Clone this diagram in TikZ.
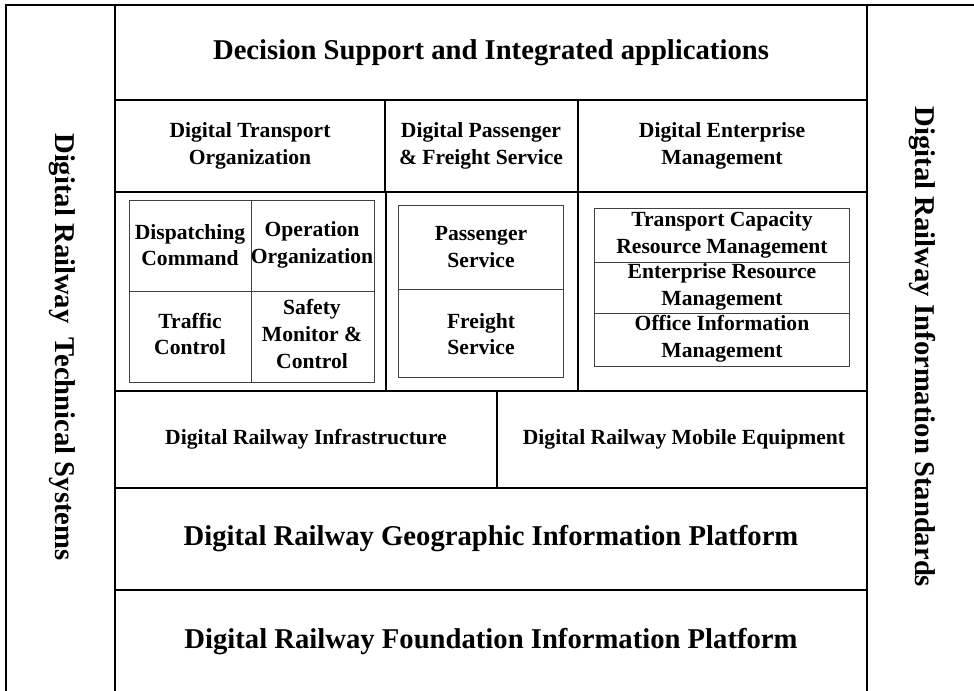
\documentclass[tikz,border=0pt]{standalone}
\usepackage{fontspec}
\setmainfont{Liberation Serif}
\begin{document}
\begin{tikzpicture}[x=0.75pt,y=-0.75pt,
	rahmen/.style={line width=1.6pt},
	block/.style={line width=2pt},
	fein/.style={line width=0.7pt,color=black!75},
	gross/.style={font=\bfseries\fontsize{21.5}{26}\selectfont},
	txt/.style={font=\bfseries\fontsize{16.2}{20}\selectfont,align=center}]
\useasboundingbox (0,0) rectangle (974,690);

% Rahmen
\draw[rahmen] (6,720) -- (6,5) -- (1000,5);
\draw[rahmen] (115,5) -- (115,720);
\draw[rahmen] (867,5) -- (867,720);

% Seitenleisten
\node[gross,rotate=-90] (techsys) at (62,347) {Digital Railway\ \ Technical Systems};
\node[gross,rotate=-90] (infostd) at (922,347) {Digital Railway Information Standards};

% Anwendungen
\draw[block] (115,5) rectangle (867,100);
\node[gross] (decision) at (491,53) {Decision Support and Integrated applications};

% Kopfzeile
\draw[block] (115,100) rectangle (385,192);
\draw[block] (385,100) rectangle (578,192);
\draw[block] (578,100) rectangle (867,192);
\node[txt] (transport) at (250,146) {Digital Transport\\Organization};
\node[txt] (service) at (481,146) {Digital Passenger\\\& Freight Service};
\node[txt] (enterprise) at (722,146) {Digital Enterprise\\Management};

% Transportorganisation
\draw[block] (115,192) rectangle (386,391);
\draw[fein] (129,200) rectangle (374,382);
\draw[fein] (251,200) -- (251,382);
\draw[fein] (129,291) -- (374,291);
\node[txt] (dispatch) at (190,245) {Dispatching\\Command};
\node[txt] (operation) at (312,245) {Operation\\Organization};
\node[txt] (traffic) at (190,334) {Traffic\\Control};
\node[txt] (safety) at (312,334) {Safety\\Monitor \&\\Control};

% Personen- und Gueterverkehr
\draw[block] (386,192) rectangle (578,391);
\draw[fein] (398,205) rectangle (563,377);
\draw[fein] (398,289) -- (563,289);
\node[txt] (passenger) at (481,247) {Passenger\\Service};
\node[txt] (freight) at (481,334) {Freight\\Service};

% Unternehmensmanagement
\draw[block] (578,192) rectangle (867,391);
\draw[fein] (594,208) rectangle (849,366);
\draw[fein] (594,262) -- (849,262);
\draw[fein] (594,313) -- (849,313);
\node[txt] (capacity) at (722,235) {Transport Capacity\\Resource Management};
\node[txt] (resource) at (722,287) {Enterprise Resource\\Management};
\node[txt] (office) at (722,339) {Office Information\\Management};

% Infrastruktur
\draw[block] (115,391) rectangle (497,488);
\draw[block] (497,391) rectangle (867,488);
\node[txt] (infra) at (306,439) {Digital Railway Infrastructure};
\node[txt] (mobile) at (684,439) {Digital Railway Mobile Equipment};

% Plattformen
\draw[block] (115,488) rectangle (867,590);
\node[gross] (geo) at (491,539) {Digital Railway Geographic Information Platform};
\draw[block] (115,590) rectangle (867,720);
\node[gross] (foundation) at (491,642) {Digital Railway Foundation Information Platform};

\end{tikzpicture}
\end{document}
